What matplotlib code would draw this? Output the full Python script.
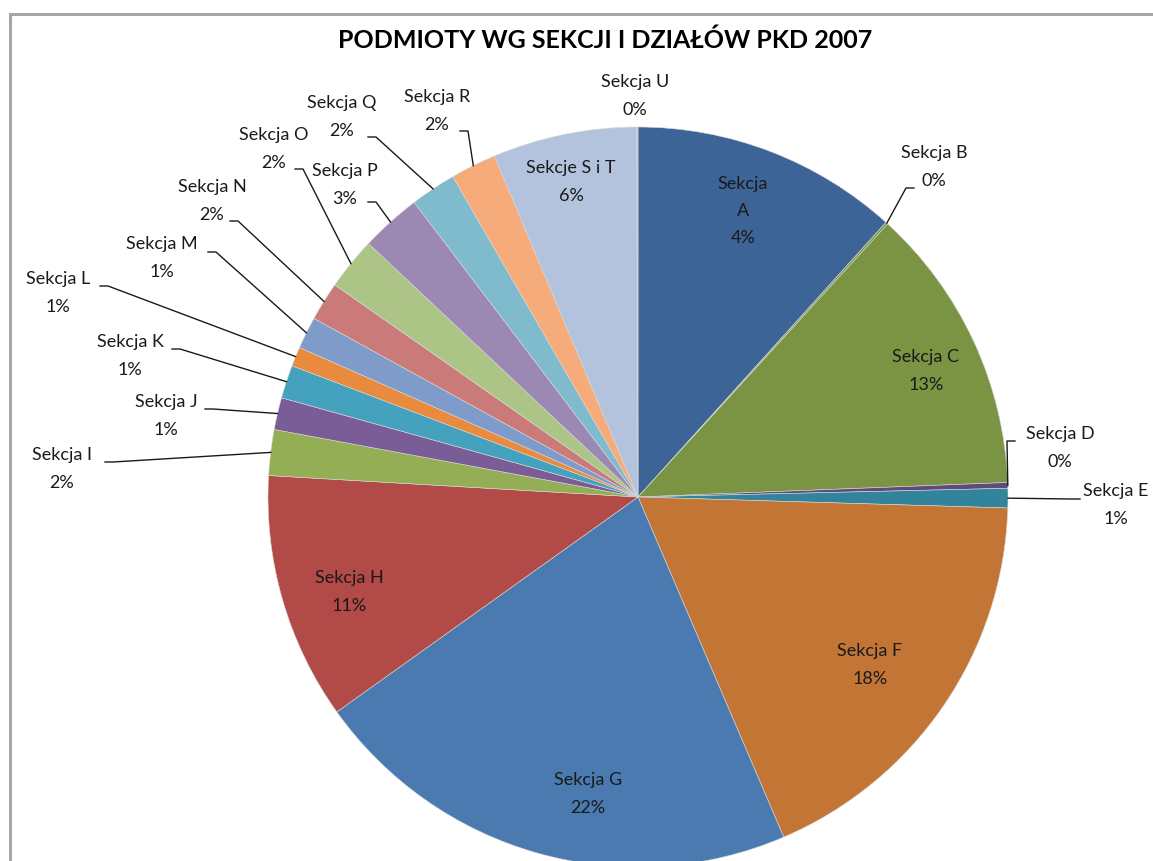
import numpy as np
import matplotlib

matplotlib.use("Agg")
import matplotlib.pyplot as plt

W, H = 1153, 861

# slice shares (angles of the wedges)
sections = ["A", "B", "C", "D", "E", "F", "G", "H", "I", "J",
            "K", "L", "M", "N", "O", "P", "Q", "R", "S i T", "U"]
shares = [11.7, 0.1, 12.6, 0.25, 0.85, 18.1, 21.6, 10.8, 2.0, 1.4,
          1.45, 0.85, 1.4, 1.7, 2.3, 2.65, 2.0, 2.0, 6.3, 0.05]
# percentages as printed in the data labels
pct_labels = ["4%", "0%", "13%", "0%", "1%", "18%", "22%", "11%", "2%", "1%",
              "1%", "1%", "1%", "2%", "2%", "3%", "2%", "2%", "6%", "0%"]
colors = ["#3D6496", "#7A9444", "#7A9444", "#604A7B", "#31849B", "#C27535",
          "#4A7AB0", "#B24A48", "#94AE56", "#7A5C96", "#45A2BE", "#E88B3E",
          "#7F9BC9", "#CB7A7A", "#ACC587", "#9B88B3", "#7FBACD", "#F6AB7A",
          "#B4C3DD", "#B4C3DD"]

# label layout in pixel coords: centre of the first text line
label_pos = {
    "A": (743, 183), "B": (934, 153), "C": (926, 357), "D": (1060, 434),
    "E": (1116, 491), "F": (870, 651), "G": (588, 780), "H": (349, 578),
    "I": (62, 455), "J": (166, 402), "K": (130, 342), "L": (58, 279),
    "M": (162, 244), "N": (212, 187), "O": (274, 135), "P": (345, 171),
    "Q": (342, 103), "R": (437, 97), "S i T": (571, 168), "U": (635, 82),
}
leader_start = {
    "B": (914, 188), "D": (1015, 441), "E": (1080, 499), "I": (105, 462),
    "J": (205, 409), "K": (172, 349), "L": (100, 286), "M": (208, 252),
    "N": (230, 221), "O": (295, 169), "P": (368, 202), "Q": (368, 137),
    "R": (460, 131),
}

plt.rcParams["font.family"] = ["Lato", "DejaVu Sans"]

fig = plt.figure(figsize=(W / 100, H / 100), dpi=100)
ax = fig.add_axes([0, 0, 1, 1])


def py(y):
    return H - y


cx, cy, r = 638, 497, 370
wedges, _ = ax.pie(shares, colors=colors, startangle=90, counterclock=False,
                   center=(cx, py(cy)), radius=r, frame=True,
                   wedgeprops={"linewidth": 0.4, "edgecolor": "#d8d8d8"})
ax.set_xlim(0, W)
ax.set_ylim(0, H)
ax.set_aspect("equal")
ax.axis("off")

line_h = 28
for name, w, pct in zip(sections, wedges, pct_labels):
    x, y = label_pos[name]
    if name == "A":
        txt = "Sekcja\nA\n" + pct
    elif name == "S i T":
        txt = "Sekcje S i T\n" + pct
    else:
        txt = f"Sekcja {name}\n{pct}"
    n_lines = txt.count("\n") + 1
    yc = y + (n_lines - 1) * line_h / 2
    ax.text(x, py(yc), txt, ha="center", va="center", fontsize=13,
            color="#1a1a1a", linespacing=1.88)
    if name in leader_start:
        mid = np.deg2rad((w.theta1 + w.theta2) / 2)
        ex = cx + r * np.cos(mid)
        ey = py(cy) + r * np.sin(mid)
        sx, sy = leader_start[name]
        step = 8 if ex > sx else -8
        ax.plot([sx, sx + step, ex], [py(sy), py(sy), ey],
                color="#1a1a1a", lw=1.0)

ax.text(605, py(40), "PODMIOTY WG SEKCJI I DZIAŁÓW PKD 2007", ha="center",
        va="center", fontsize=18, fontweight="bold", color="#000000")

# chart frame
ax.plot([10, 10, W + 5], [-5, py(14), py(14)], color="#A6A6A6", lw=2.2,
        solid_joinstyle="miter")

fig.savefig("out.png", dpi=100)
